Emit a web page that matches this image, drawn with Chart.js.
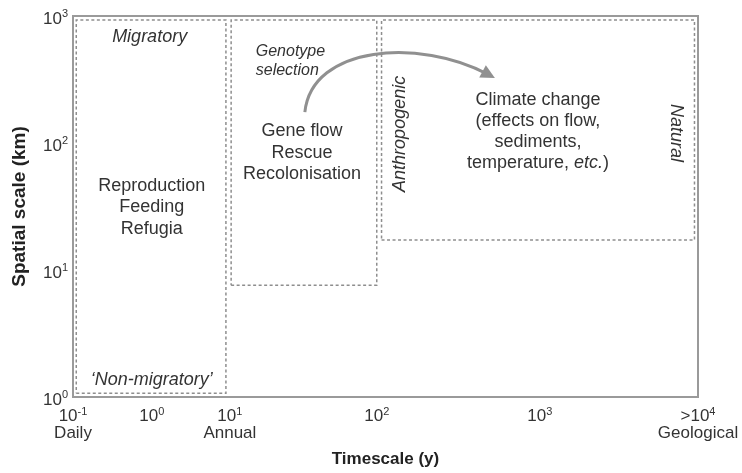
<!DOCTYPE html>
<html>
<head>
<meta charset="utf-8">
<script src="https://cdn.jsdelivr.net/npm/chart.js@4/dist/chart.umd.min.js"></script>
<style>
  html, body { margin: 0; padding: 0; background: #fff; }
  #wrap { width: 742px; height: 473px; }
</style>
</head>
<body>
<div id="wrap"><canvas id="scaleChart"></canvas></div>
<script>
/* ------------------------------------------------------------
   Data – timescale in years, spatial scale in km
   ------------------------------------------------------------ */
const timeTicks = [0.1, 1, 10, 100, 1000, 10000];
const timeTickBase = ["10", "10", "10", "10", "10", ">10"];
const timeTickExp = ["-1", "0", "1", "2", "3", "4"];
const timeTickNames = ["Daily", "", "Annual", "", "", "Geological"];

const spaceTicks = [1, 10, 100, 1000];
const spaceTickBase = ["10", "10", "10", "10"];
const spaceTickExp = ["0", "1", "2", "3"];

const boxNames = ["Movement", "Dispersal", "Environmental change"];
const boxTimeFrom = [0.11, 10.2, 107];
const boxTimeTo = [8.9, 100, 9500];
const boxSpaceFrom = [1.07, 7.6, 17.2];
const boxSpaceTo = [930, 930, 930];

/* the time axis is schematic: decades are not evenly spaced */
const timeAxisStops = [0, 0.126, 0.251, 0.486, 0.747, 1];

function timeToAxis(t) {
    const lg = Math.log10(t);
    const i = Math.min(Math.max(Math.floor(lg) + 1, 0), 4);
    const f = lg - (i - 1);
    return timeAxisStops[i] + f * (timeAxisStops[i + 1] - timeAxisStops[i]);
}

const FONT = '"Liberation Sans", Arial, Helvetica, sans-serif';
const TEXT = "#333";

/* ------------------------------------------------------------
   Annotations (anchored in data units)
   ------------------------------------------------------------ */
const notes = [
    { lines: ["Migratory"], italic: true, t: 0.94, s: 684 },
    { lines: ["\u2018Non-migratory\u2019"], italic: true, t: 1.0, s: 1.36 },
    { lines: ["Reproduction", "Feeding", "Refugia"], t: 1.0, s: 31.3, lh: 21.5 },
    { lines: ["Genotype", "selection"], italic: true, size: 16, align: "left", t: 15, s: 438, lh: 19 },
    { lines: ["Gene flow", "Rescue", "Recolonisation"], t: 31, s: 83.4, lh: 21.5 },
    { lines: ["Anthropogenic"], italic: true, rotate: -90, t: 138, s: 118 },
    { lines: ["Natural"], italic: true, rotate: 90, t: 7260, s: 120 },
    { lines: ["Climate change", "(effects on flow,", "sediments,",
              [["temperature, ", false], ["etc.", true], [")", false]]],
      t: 973, s: 123, lh: 21 }
];

const arrowTime = [32.4, 36.2, 184, 530];
const arrowSpace = [175, 591, 671, 325];

/* ------------------------------------------------------------
   Helpers
   ------------------------------------------------------------ */
function drawLine(ctx, line, x, y, size, italic, align) {
    const segs = Array.isArray(line) ? line : [[line, italic]];
    const fontOf = it => (it ? "italic " : "") + size + "px " + FONT;
    let total = 0;
    segs.forEach(sg => { ctx.font = fontOf(sg[1]); total += ctx.measureText(sg[0]).width; });
    let cx = align === "left" ? x : x - total / 2;
    ctx.textAlign = "left";
    segs.forEach(sg => {
        ctx.font = fontOf(sg[1]);
        ctx.fillText(sg[0], cx, y);
        cx += ctx.measureText(sg[0]).width;
    });
}

/* power-of-ten label: base + raised exponent */
function drawPower(ctx, base, exp, x, baseline, align) {
    ctx.font = "17px " + FONT;
    const wb = ctx.measureText(base).width;
    ctx.font = "11px " + FONT;
    const we = ctx.measureText(exp).width;
    const start = align === "right" ? x - wb - we : x - (wb + we) / 2;
    ctx.textAlign = "left";
    ctx.textBaseline = "alphabetic";
    ctx.font = "17px " + FONT;
    ctx.fillText(base, start, baseline);
    ctx.font = "11px " + FONT;
    ctx.fillText(exp, start + wb, baseline - 6.5);
}

/* ------------------------------------------------------------
   Plugins
   ------------------------------------------------------------ */
const framePlugin = {
    id: "frame",
    beforeDatasetsDraw(chart) {
        const { ctx, chartArea: a } = chart;
        ctx.save();
        ctx.strokeStyle = "#9a9a9a";
        ctx.lineWidth = 2;
        ctx.strokeRect(a.left, a.top, a.right - a.left, a.bottom - a.top);
        ctx.restore();
    }
};

const tickPlugin = {
    id: "powerTicks",
    afterDraw(chart) {
        const { ctx, chartArea: a, scales: { x, y } } = chart;
        ctx.save();
        ctx.fillStyle = TEXT;
        timeTicks.forEach((t, i) => {
            const px = x.getPixelForValue(timeToAxis(t));
            drawPower(ctx, timeTickBase[i], timeTickExp[i], px, a.bottom + 24, "center");
            if (timeTickNames[i]) {
                ctx.font = "17px " + FONT;
                ctx.textAlign = "center";
                ctx.fillText(timeTickNames[i], px, a.bottom + 41);
            }
        });
        spaceTicks.forEach((s, i) => {
            const py = y.getPixelForValue(s);
            drawPower(ctx, spaceTickBase[i], spaceTickExp[i], a.left - 5, py + 7.5, "right");
        });
        ctx.restore();
    }
};

const notesPlugin = {
    id: "notes",
    afterDatasetsDraw(chart) {
        const { ctx, scales: { x, y } } = chart;
        const px = t => x.getPixelForValue(timeToAxis(t));
        const py = s => y.getPixelForValue(s);

        ctx.save();
        ctx.fillStyle = TEXT;
        ctx.textBaseline = "middle";
        notes.forEach(n => {
            const size = n.size || 18;
            const lh = n.lh || 21;
            ctx.save();
            ctx.translate(px(n.t), py(n.s));
            if (n.rotate) ctx.rotate(n.rotate * Math.PI / 180);
            const top = -(n.lines.length - 1) * lh / 2;
            n.lines.forEach((ln, i) => drawLine(ctx, ln, 0, top + i * lh, size, n.italic, n.align));
            ctx.restore();
        });

        /* curved arrow */
        const p = arrowTime.map((t, i) => [px(t), py(arrowSpace[i])]);
        ctx.strokeStyle = "#909090";
        ctx.fillStyle = "#909090";
        ctx.lineWidth = 3;
        ctx.beginPath();
        ctx.moveTo(p[0][0], p[0][1]);
        const dx = p[3][0] - p[2][0], dy = p[3][1] - p[2][1];
        const len = Math.hypot(dx, dy), ux = dx / len, uy = dy / len;
        ctx.bezierCurveTo(p[1][0], p[1][1], p[2][0], p[2][1], p[3][0] - ux * 8, p[3][1] - uy * 8);
        ctx.stroke();
        const hl = 14, hw = 7;
        ctx.beginPath();
        ctx.moveTo(p[3][0], p[3][1]);
        ctx.lineTo(p[3][0] - ux * hl - uy * hw, p[3][1] - uy * hl + ux * hw);
        ctx.lineTo(p[3][0] - ux * hl + uy * hw, p[3][1] - uy * hl - ux * hw);
        ctx.closePath();
        ctx.fill();
        ctx.restore();
    }
};

/* ------------------------------------------------------------
   Chart
   ------------------------------------------------------------ */
const ctx = document.getElementById("scaleChart");

new Chart(ctx, {
    type: "line",
    data: {
        datasets: boxNames.map((name, i) => ({
            label: name,
            data: [
                { x: timeToAxis(boxTimeFrom[i]), y: boxSpaceFrom[i] },
                { x: timeToAxis(boxTimeTo[i]), y: boxSpaceFrom[i] },
                { x: timeToAxis(boxTimeTo[i]), y: boxSpaceTo[i] },
                { x: timeToAxis(boxTimeFrom[i]), y: boxSpaceTo[i] },
                { x: timeToAxis(boxTimeFrom[i]), y: boxSpaceFrom[i] }
            ],
            borderColor: "#8e8e8e",
            borderWidth: 1.5,
            borderDash: [3, 2.5],
            pointRadius: 0,
            fill: false,
            tension: 0
        }))
    },
    options: {
        responsive: true,
        maintainAspectRatio: false,
        animation: false,
        layout: { padding: { top: 16, right: 44, bottom: 0, left: 0 } },
        plugins: { legend: { display: false }, tooltip: { enabled: false } },
        scales: {
            x: {
                type: "linear",
                min: 0,
                max: 1,
                grid: { display: false },
                border: { display: false },
                afterBuildTicks: s => { s.ticks = timeTicks.map(t => ({ value: timeToAxis(t) })); },
                afterFit: s => { s.height = 76; },
                ticks: { display: false },
                title: {
                    display: true,
                    text: "Timescale (y)",
                    color: "#222",
                    font: { family: FONT, size: 17, weight: "bold" },
                    padding: { top: 0, bottom: 3 }
                }
            },
            y: {
                type: "logarithmic",
                min: 1,
                max: 1000,
                grid: { display: false },
                border: { display: false },
                afterBuildTicks: s => { s.ticks = spaceTicks.map(v => ({ value: v })); },
                afterFit: s => { s.width = 73; },
                ticks: { display: false },
                title: {
                    display: true,
                    text: "Spatial scale (km)",
                    color: "#222",
                    font: { family: FONT, size: 19, weight: "bold" },
                    padding: { top: 8, bottom: 0 }
                }
            }
        }
    },
    plugins: [framePlugin, notesPlugin, tickPlugin]
});
</script>
</body>
</html>
